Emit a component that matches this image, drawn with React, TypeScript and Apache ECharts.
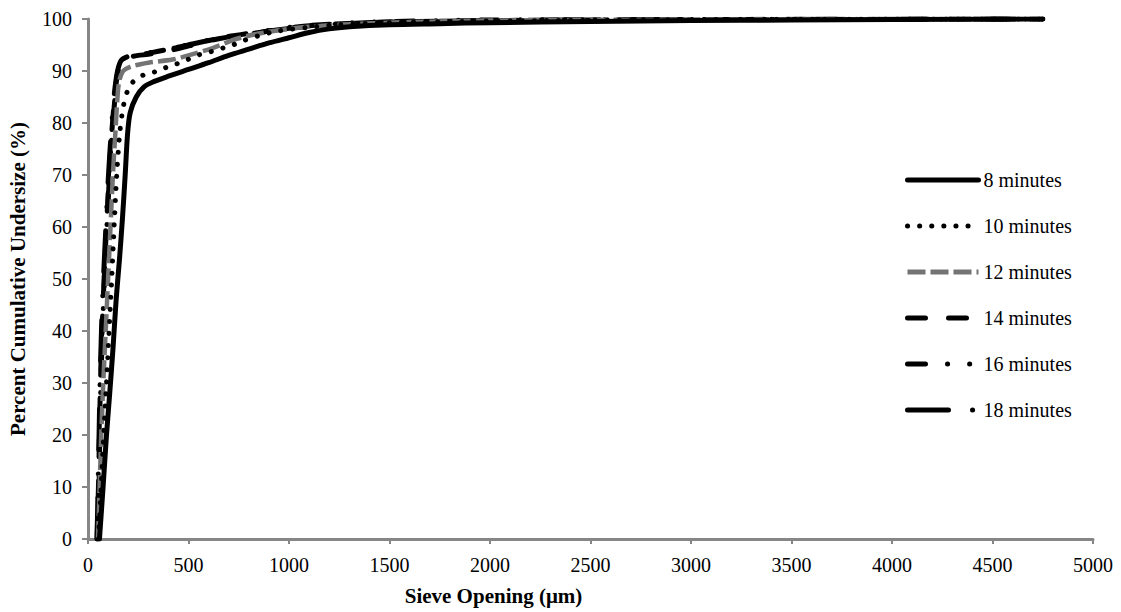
import React, { useEffect, useRef } from "react";
import * as echarts from "echarts";

const seriesNames = ["8 minutes", "10 minutes", "12 minutes", "14 minutes", "16 minutes", "18 minutes"];
const xTicks = { min: 0, max: 5000, interval: 500 };
const yTicks = { min: 0, max: 100, interval: 10 };

const min8: number[][] = [
  [57, 0], [75, 10], [92, 20], [108, 28], [125, 37], [140, 46], [157, 54], [172, 62], [185, 70], [197, 78],
  [210, 82], [240, 85], [280, 87], [330, 88], [400, 89], [500, 90.3], [600, 91.6], [700, 93], [800, 94.2],
  [900, 95.4], [1000, 96.4], [1100, 97.4], [1200, 98.1], [1300, 98.5], [1500, 98.9], [1750, 99.1],
  [2000, 99.3], [2500, 99.5], [3000, 99.7], [3500, 99.8], [4000, 99.9], [4750, 100],
];
const min10: number[][] = [
  [52, 0], [65, 10], [78, 20], [92, 30], [105, 40], [118, 50], [130, 60], [143, 70], [158, 78], [175, 83],
  [195, 86], [224, 87.9], [274, 89.2], [330, 89.8], [383, 90.6], [430, 91.2], [490, 92.1], [550, 93.1],
  [610, 93.7], [670, 94.4], [720, 95], [770, 95.8], [850, 96.8], [920, 97.5], [1000, 98], [1100, 98.4],
  [1200, 98.8], [1500, 99.3], [2000, 99.6], [3000, 99.9], [4750, 100],
];
const min12: number[][] = [
  [50, 0], [58, 10], [66, 20], [76, 30], [88, 40], [100, 50], [112, 60], [124, 70], [136, 78], [145, 84],
  [155, 88], [175, 90], [210, 90.8], [260, 91.3], [300, 91.6], [420, 92.2], [500, 93], [620, 94.4],
  [740, 96.2], [850, 97.2], [1000, 98.1], [1100, 98.5], [1300, 99], [1600, 99.4], [2000, 99.7],
  [3000, 99.9], [4750, 100],
];
const min14: number[][] = [
  [45, 0], [52, 10], [57, 20], [62, 30], [70, 40], [80, 50], [92, 60], [105, 70], [118, 78], [128, 83],
  [138, 87], [150, 90], [170, 92], [200, 92.6], [250, 93], [300, 93.2], [370, 93.7], [450, 94.3],
  [550, 95.3], [650, 96.2], [750, 96.9], [870, 97.5], [1000, 98.3], [1200, 99], [1500, 99.4],
  [2000, 99.7], [3000, 99.9], [4750, 100],
];
const min16: number[][] = [
  [48, 0], [54, 10], [59, 20], [64, 30], [72, 40], [82, 50], [94, 60], [107, 70], [120, 78], [130, 83],
  [140, 87], [152, 90], [175, 92.3], [210, 92.8], [260, 93.1], [350, 93.8], [450, 94.6], [550, 95.5],
  [650, 96.3], [760, 97], [870, 97.6], [1000, 98.4], [1200, 99], [1500, 99.5], [2000, 99.8],
  [3000, 99.9], [4750, 100],
];
const min18: number[][] = [
  [45, 0], [50, 10], [55, 20], [60, 30], [67, 40], [77, 50], [89, 60], [102, 70], [115, 78], [125, 83],
  [135, 87], [147, 90], [165, 92], [200, 92.8], [240, 93.1], [320, 93.6], [420, 94.3], [520, 95.2],
  [620, 96], [720, 96.7], [850, 97.4], [1000, 98.2], [1200, 98.9], [1500, 99.4], [2000, 99.7],
  [3000, 99.9], [4750, 100],
];

const seriesData = [min8, min10, min12, min14, min16, min18];
const seriesColors = ["#000000", "#000000", "#747474", "#000000", "#000000", "#000000"];
const seriesDash: (string | number[])[] = [
  "solid",
  [0.1, 12],
  [18, 5],
  [18, 23],
  [18, 22, 0.1, 22, 0.1, 22],
  [41, 24, 0.1, 24],
];
const seriesCap = ["round", "round", "butt", "round", "round", "round"];

const FONT = "'Liberation Serif', 'Times New Roman', serif";
const AXIS_GREY = "#868686";

export default function App() {
  const ref = useRef<HTMLDivElement>(null);
  useEffect(() => {
    if (!ref.current) return;
    const chart = echarts.init(ref.current, undefined, { renderer: "svg" });
    chart.setOption({
      animation: false,
      backgroundColor: "#ffffff",
      grid: { left: 88, right: 28, top: 19, bottom: 73, containLabel: false, outerBoundsMode: "none" },
      legend: {
        orient: "vertical",
        left: 900,
        top: 165,
        itemWidth: 71,
        itemHeight: 20,
        itemGap: 26,
        data: seriesNames,
        textStyle: { fontFamily: FONT, fontSize: 20, color: "#000", lineHeight: 20 },
        lineStyle: { width: 5 },
        itemStyle: { opacity: 0, color: "transparent", borderWidth: 0 },
      },
      xAxis: {
        type: "value",
        min: xTicks.min,
        max: xTicks.max,
        interval: xTicks.interval,
        name: "Sieve Opening (μm)",
        nameLocation: "middle",
        nameGap: 46,
        nameTextStyle: {
          fontFamily: FONT,
          fontSize: 21,
          fontWeight: "bold",
          color: "#000",
          padding: [0, 194, 0, 0],
        },
        axisLine: { show: true, lineStyle: { color: AXIS_GREY, width: 3 } },
        axisTick: { show: true, length: 5, lineStyle: { color: AXIS_GREY, width: 2 } },
        axisLabel: {
          fontFamily: FONT,
          fontSize: 20,
          color: "#000",
          margin: 16,
          formatter: (v: number) => String(v),
        },
        splitLine: { show: false },
      },
      yAxis: {
        type: "value",
        min: yTicks.min,
        max: yTicks.max,
        interval: yTicks.interval,
        name: "Percent Cumulative Undersize (%)",
        nameLocation: "middle",
        nameGap: 60,
        nameTextStyle: { fontFamily: FONT, fontSize: 21, fontWeight: "bold", color: "#000" },
        axisLine: { show: true, lineStyle: { color: AXIS_GREY, width: 3 } },
        axisTick: { show: true, length: 6, lineStyle: { color: AXIS_GREY, width: 2 } },
        axisLabel: {
          fontFamily: FONT,
          fontSize: 20,
          color: "#000",
          margin: 16,
          formatter: (v: number) => String(v),
        },
        splitLine: { show: false },
      },
      series: seriesNames.map((name, i) => ({
        name,
        type: "line",
        data: seriesData[i],
        showSymbol: false,
        symbol: "none",
        smooth: 0.3,
        lineStyle: {
          color: seriesColors[i],
          width: i === 2 ? 4.5 : 5,
          type: seriesDash[i],
          cap: seriesCap[i],
          join: "round",
        },
        itemStyle: { color: seriesColors[i] },
        z: 10 - i,
      })),
    });
    return () => chart.dispose();
  }, []);
  return (
    <div
      ref={ref}
      style={{ position: "fixed", left: 0, top: 0, width: 1121, height: 612, background: "#fff" }}
    />
  );
}
